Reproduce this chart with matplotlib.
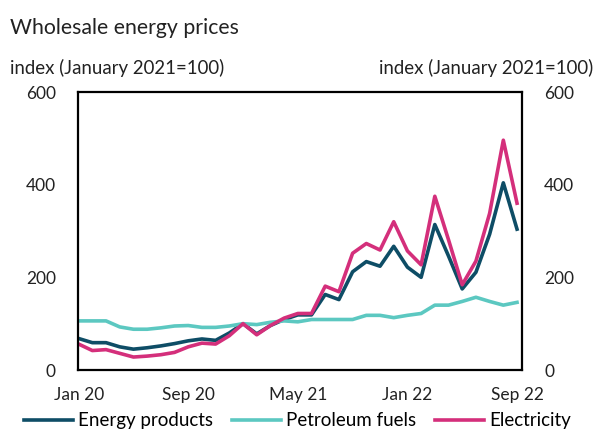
import matplotlib
matplotlib.use("Agg")
import matplotlib.pyplot as plt
import numpy as np

plt.rcParams["font.family"] = ["Lato", "DejaVu Sans"]

# monthly, Jan 2020 .. Sep 2022 (index Jan 2021 = 100)
months = ["Jan 20", "Feb 20", "Mar 20", "Apr 20", "May 20", "Jun 20", "Jul 20", "Aug 20",
          "Sep 20", "Oct 20", "Nov 20", "Dec 20", "Jan 21", "Feb 21", "Mar 21", "Apr 21",
          "May 21", "Jun 21", "Jul 21", "Aug 21", "Sep 21", "Oct 21", "Nov 21", "Dec 21",
          "Jan 22", "Feb 22", "Mar 22", "Apr 22", "May 22", "Jun 22", "Jul 22", "Aug 22",
          "Sep 22"]
energy = [68, 59, 59, 50, 45, 48, 52, 57, 63, 67, 64, 80, 100, 78, 96, 109, 119,
          119, 163, 152, 212, 234, 224, 267, 222, 200, 314, 246, 175, 211, 293, 404, 304]
petroleum = [106, 106, 106, 93, 88, 88, 91, 95, 96, 92, 92, 95, 100, 98, 103, 106, 104,
             109, 109, 109, 109, 118, 118, 113, 118, 122, 140, 140, 148, 157, 148, 140, 146]
electricity = [56, 42, 44, 36, 28, 30, 33, 38, 50, 58, 56, 74, 100, 76, 96, 112, 122,
               122, 181, 169, 252, 273, 259, 320, 257, 227, 375, 281, 184, 235, 338, 496, 360]
tick_labels = ["Jan 20", "Sep 20", "May 21", "Jan 22", "Sep 22"]

x = np.arange(len(months))
fig = plt.figure(figsize=(5.95, 4.32), dpi=100)
ax = fig.add_axes([0.131, 0.1435, 0.746, 0.6435])
ax.plot(x, energy, color="#0e4d66", lw=2.6, label="Energy products")
ax.plot(x, petroleum, color="#5cc8c1", lw=2.6, label="Petroleum fuels")
ax.plot(x, electricity, color="#d42f7b", lw=2.6, label="Electricity")

ax.set_xlim(-0.05, 32.35)
ax.set_ylim(0, 600)
ax.set_yticks([0, 200, 400, 600])
ax.set_xticks([months.index(t) for t in tick_labels])
ax.set_xticklabels(tick_labels)
ax.tick_params(length=0, labelsize=12.5, pad=12, colors="#222222")
ax.tick_params(axis="y", pad=16)
ax.tick_params(labelright=True, right=False)
for s in ax.spines.values():
    s.set_linewidth(1.6)

fig.text(0.017, 0.935, "Wholesale energy prices", fontsize=15.3, va="center", color="#222222")
fig.text(0.017, 0.843, "index (January 2021=100)", fontsize=13.4, va="center", color="#222222")
fig.text(0.997, 0.843, "index (January 2021=100)", fontsize=13.4, va="center", ha="right",
         color="#222222")

fig.legend(loc="center", bbox_to_anchor=(0.5, 0.026), ncol=3, frameon=False, fontsize=13.5,
           handlelength=2.6, columnspacing=1.0, handletextpad=0.3, borderaxespad=0)
fig.savefig("out.png", dpi=100)
